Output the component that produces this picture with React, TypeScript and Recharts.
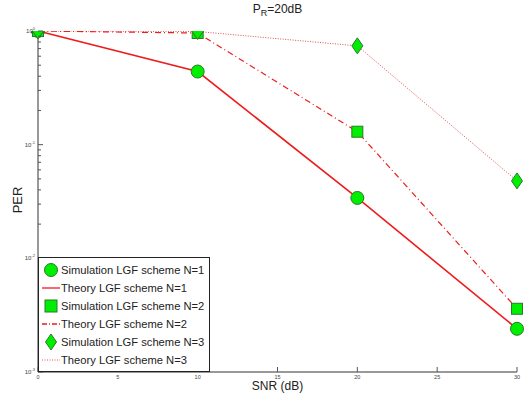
import { ComposedChart, Line, XAxis, YAxis } from 'recharts';

// SNR in dB
const snr = [0, 10, 20, 30];
// packet error rate
const simN1 = [1, 0.44, 0.034, 0.0024];
const theoryN1 = [1, 0.44, 0.034, 0.0024];
const simN2 = [1, 0.96, 0.13, 0.0036];
const theoryN2 = [1, 0.96, 0.13, 0.0036];
const simN3 = [1, 0.99, 0.74, 0.048];
const theoryN3 = [1, 0.99, 0.74, 0.048];

const xTicks = [0, 5, 10, 15, 20, 25, 30];
const yDecades = [0.001, 0.01, 0.1, 1];
const yDecadeExp = ['-3', '-2', '-1', '0'];
const yMinorMult = [2, 3, 4, 5, 6, 7, 8, 9];

const legendLabels = [
  'Simulation LGF scheme N=1',
  'Theory LGF scheme N=1',
  'Simulation LGF scheme N=2',
  'Theory LGF scheme N=2',
  'Simulation LGF scheme N=3',
  'Theory LGF scheme N=3',
];

const data = snr.map((s, i) => ({
  snr: s,
  s1: simN1[i],
  t1: theoryN1[i],
  s2: simN2[i],
  t2: theoryN2[i],
  s3: simN3[i],
  t3: theoryN3[i],
}));

const yTicks: number[] = [];
yDecades.forEach((d, i) => {
  yTicks.push(d);
  if (i < yDecades.length - 1) yMinorMult.forEach(m => yTicks.push(+(d * m).toPrecision(3)));
});

const GREEN = '#00ee00';
const EDGE = '#2a7a2a';
const RED = '#ee1c1c';
const FONT = '"Liberation Sans", Arial, sans-serif';

const isDecade = (v: number) => yDecades.some(d => Math.abs(d - v) < 1e-9);

const BottomTick = ({ x, y, payload }: any) => (
  <g>
    <line x1={x} y1={y} x2={x} y2={y - 5} stroke="#555" />
    <text x={x} y={y + 7} textAnchor="middle" fontSize={5.5} fill="#444" fontFamily={FONT}>
      {payload.value}
    </text>
  </g>
);

const TopTick = ({ x, y }: any) => <line x1={x} y1={y} x2={x} y2={y + 5} stroke="#777" />;

const LeftTick = ({ x, y, payload }: any) => {
  const major = isDecade(payload.value);
  const idx = yDecades.findIndex(d => Math.abs(d - payload.value) < 1e-9);
  return (
    <g>
      <line x1={x} y1={y} x2={x + (major ? 5 : 3)} y2={y} stroke="#555" />
      {major && (
        <text x={x - 3} y={y + 2} textAnchor="end" fontSize={6} fill="#444" fontFamily={FONT}>
          10
          <tspan dy={-3} fontSize={4}>{yDecadeExp[idx]}</tspan>
        </text>
      )}
    </g>
  );
};

const RightTick = ({ x, y, payload }: any) => {
  const major = isDecade(payload.value);
  return <line x1={x} y1={y} x2={x - (major ? 5 : 3)} y2={y} stroke="#777" />;
};

const CircleDot = ({ cx, cy }: any) =>
  cx == null ? null : <circle cx={cx} cy={cy} r={6.5} fill={GREEN} stroke={EDGE} strokeWidth={1} />;

const SquareDot = ({ cx, cy }: any) =>
  cx == null ? null : <rect x={cx - 5.5} y={cy - 5.5} width={11} height={11} fill={GREEN} stroke={EDGE} strokeWidth={1} />;

const DiamondDot = ({ cx, cy }: any) =>
  cx == null ? null : (
    <polygon
      points={`${cx},${cy - 8} ${cx + 5.5},${cy} ${cx},${cy + 8} ${cx - 5.5},${cy}`}
      fill={GREEN}
      stroke={EDGE}
      strokeWidth={1}
    />
  );

const LegendIcon = ({ i }: { i: number }) => {
  const cx = 12;
  const cy = 9;
  if (i === 0) return <circle cx={cx} cy={cy} r={6.5} fill={GREEN} stroke={EDGE} />;
  if (i === 2) return <rect x={cx - 6} y={cy - 6} width={12} height={12} fill={GREEN} stroke={EDGE} />;
  if (i === 4)
    return <polygon points={`${cx},${cy - 8} ${cx + 5.5},${cy} ${cx},${cy + 8} ${cx - 5.5},${cy}`} fill={GREEN} stroke={EDGE} />;
  const dash = i === 1 ? undefined : i === 3 ? '5 2 1 2' : '1 1.5';
  return <line x1={3} y1={cy} x2={21} y2={cy} stroke={RED} strokeWidth={i === 5 ? 0.8 : 1.3} strokeDasharray={dash} />;
};

export default function App() {
  return (
    <div style={{ position: 'absolute', left: 0, top: 0, width: 525, height: 400, background: '#fff', fontFamily: FONT }}>
      <ComposedChart width={525} height={400} data={data} margin={{ top: 31, right: 8, bottom: 0, left: 0 }}>
        <XAxis
          xAxisId="b"
          dataKey="snr"
          type="number"
          domain={[0, 30]}
          ticks={xTicks}
          height={28}
          tickSize={0}
          tickMargin={0}
          tickLine={false}
          tick={<BottomTick />}
          axisLine={{ stroke: '#333' }}
        />
        <XAxis
          xAxisId="t"
          dataKey="snr"
          type="number"
          orientation="top"
          domain={[0, 30]}
          ticks={xTicks}
          height={0}
          tickSize={0}
          tickMargin={0}
          tickLine={false}
          tick={<TopTick />}
          axisLine={{ stroke: '#888' }}
        />
        <YAxis
          yAxisId="l"
          scale="log"
          domain={[0.001, 1]}
          allowDataOverflow
          ticks={yTicks}
          interval={0}
          width={38}
          tickSize={0}
          tickMargin={0}
          tickLine={false}
          tick={<LeftTick />}
          axisLine={{ stroke: '#333' }}
        />
        <YAxis
          yAxisId="r"
          orientation="right"
          scale="log"
          domain={[0.001, 1]}
          allowDataOverflow
          ticks={yTicks}
          interval={0}
          width={0}
          tickSize={0}
          tickMargin={0}
          tickLine={false}
          tick={<RightTick />}
          axisLine={{ stroke: '#888' }}
        />
        <Line xAxisId="b" yAxisId="l" dataKey="t3" type="linear" stroke="#e05050" strokeWidth={1} strokeDasharray="1 1.5" dot={false} isAnimationActive={false} />
        <Line xAxisId="b" yAxisId="l" dataKey="t2" type="linear" stroke={RED} strokeWidth={1.2} strokeDasharray="6 3 1 3" dot={false} isAnimationActive={false} />
        <Line xAxisId="b" yAxisId="l" dataKey="t1" type="linear" stroke={RED} strokeWidth={1.6} dot={false} isAnimationActive={false} />
        <Line xAxisId="b" yAxisId="l" dataKey="s1" stroke="none" dot={<CircleDot />} activeDot={false} isAnimationActive={false} />
        <Line xAxisId="b" yAxisId="l" dataKey="s2" stroke="none" dot={<SquareDot />} activeDot={false} isAnimationActive={false} />
        <Line xAxisId="b" yAxisId="l" dataKey="s3" stroke="none" dot={<DiamondDot />} activeDot={false} isAnimationActive={false} />
      </ComposedChart>

      <div style={{ position: 'absolute', left: 0, top: 2, width: 555, textAlign: 'center', fontSize: 12, color: '#222' }}>
        P<sub style={{ fontSize: 9 }}>R</sub>=20dB
      </div>
      <div style={{ position: 'absolute', left: 38, top: 379, width: 479, textAlign: 'center', fontSize: 12, lineHeight: '14px', color: '#222' }}>
        SNR (dB)
      </div>
      <div
        style={{
          position: 'absolute',
          left: 17,
          top: 200,
          transform: 'translate(-50%, -50%) rotate(-90deg)',
          fontSize: 13,
          color: '#222',
        }}
      >
        PER
      </div>

      <div
        style={{
          position: 'absolute',
          left: 38,
          top: 257,
          width: 172,
          height: 115,
          background: '#fff',
          border: '1px solid #222',
          boxSizing: 'border-box',
          paddingTop: 3,
        }}
      >
        {legendLabels.map((label, i) => (
          <div key={label} style={{ display: 'flex', alignItems: 'center', height: 18, fontSize: 11.2, color: '#222' }}>
            <svg width={22} height={18} style={{ flex: 'none' }}>
              <LegendIcon i={i} />
            </svg>
            <span style={{ whiteSpace: 'nowrap' }}>{label}</span>
          </div>
        ))}
      </div>
    </div>
  );
}
